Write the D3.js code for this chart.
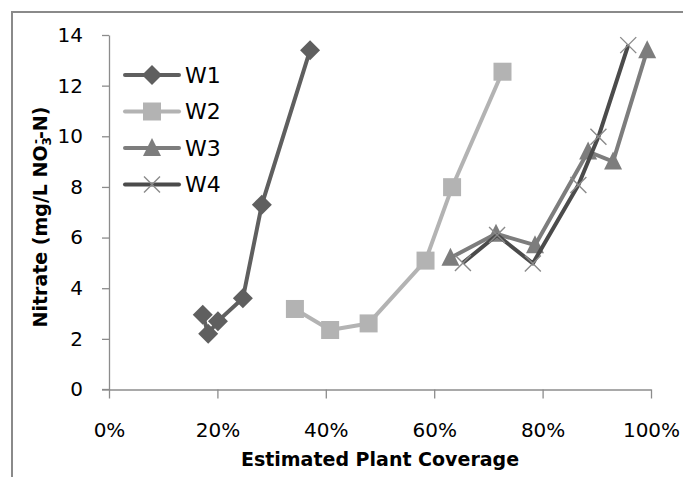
<!DOCTYPE html>
<html>
<head>
<meta charset="utf-8">
<script src="https://cdn.jsdelivr.net/npm/d3@7"></script>
<style>
  html, body { margin: 0; padding: 0; background: #fff; }
  svg { display: block; }
  text { font-family: "DejaVu Sans", "Liberation Sans", sans-serif; fill: #000; }
</style>
</head>
<body>
<svg id="chart" width="683" height="477"></svg>
<script>
// ---- data ----
const seriesNames = ["W1", "W2", "W3", "W4"];
const w1Coverage = [0.173, 0.183, 0.201, 0.247, 0.282, 0.371];
const w1Nitrate  = [2.95, 2.2, 2.7, 3.6, 7.3, 13.4];
const w2Coverage = [0.343, 0.408, 0.479, 0.584, 0.633, 0.726];
const w2Nitrate  = [3.18, 2.35, 2.61, 5.09, 7.99, 12.55];
const w3Coverage = [0.630, 0.714, 0.786, 0.884, 0.930, 0.993];
const w3Nitrate  = [5.2, 6.15, 5.7, 9.4, 9.0, 13.4];
const w4Coverage = [0.653, 0.716, 0.782, 0.866, 0.903, 0.958];
const w4Nitrate  = [5.0, 6.1, 4.98, 8.08, 9.98, 13.6];
const xTicks = [0, 0.2, 0.4, 0.6, 0.8, 1.0];
const yTicks = [0, 2, 4, 6, 8, 10, 12, 14];

const coverage = [w1Coverage, w2Coverage, w3Coverage, w4Coverage];
const nitrate = [w1Nitrate, w2Nitrate, w3Nitrate, w4Nitrate];
const lineColors = ["#5f5f5f", "#b3b3b3", "#7d7d7d", "#4b4b4b"];
const markerKinds = ["diamond", "square", "triangle", "x"];

const svg = d3.select("#chart");

// chart frame (only top/left edges visible)
svg.append("rect").attr("x", 12).attr("y", 12).attr("width", 800).attr("height", 600)
  .attr("fill", "#fff").attr("stroke", "#8a8a8a").attr("stroke-width", 2);

const x = d3.scaleLinear().domain([0, 1]).range([109, 651]);
const y = d3.scaleLinear().domain([0, 14]).range([389.5, 35]);

// axes
const axisColor = "#8c8c8c";
const gx = svg.append("g").attr("transform", `translate(0,${y(0)})`)
  .call(d3.axisBottom(x).tickValues(xTicks).tickFormat(d3.format(".0%")).tickSize(9).tickPadding(24).tickSizeOuter(0));
const gy = svg.append("g").attr("transform", `translate(${x(0)},0)`)
  .call(d3.axisLeft(y).tickValues(yTicks).tickSize(7).tickPadding(19).tickSizeOuter(0));
[gx, gy].forEach(g => {
  g.select(".domain").attr("stroke", axisColor).attr("stroke-width", 1.3);
  g.selectAll(".tick line").attr("stroke", axisColor).attr("stroke-width", 1.3);
  g.selectAll(".tick text").attr("font-family", "DejaVu Sans").attr("font-size", 20).attr("fill", "#222");
});
// extend x axis line slightly left of y-axis like Excel
gx.append("line").attr("x1", x(0) - 7).attr("x2", x(0)).attr("y1", 0).attr("y2", 0)
  .attr("stroke", axisColor).attr("stroke-width", 1.3);

// axis titles
svg.append("text").attr("x", 380).attr("y", 466).attr("text-anchor", "middle")
  .attr("font-size", 19).attr("font-weight", "bold").text("Estimated Plant Coverage");

const yt = svg.append("text").attr("transform", "translate(47,217) rotate(-90)")
  .attr("text-anchor", "middle").attr("font-size", 19).attr("font-weight", "bold");
yt.append("tspan").text("Nitrate (mg/L NO");
yt.append("tspan").attr("font-size", 12).attr("dy", 4).text("3");
yt.append("tspan").attr("font-size", 12).attr("dx", -7).attr("dy", -11).text("-");
yt.append("tspan").attr("dy", 7).text("-N)");

// marker drawing
function drawMarker(g, kind, cx, cy, color) {
  if (kind === "diamond") {
    g.append("path").attr("d", `M${cx},${cy - 10}L${cx + 10},${cy}L${cx},${cy + 10}L${cx - 10},${cy}Z`)
      .attr("fill", color);
  } else if (kind === "square") {
    g.append("rect").attr("x", cx - 9).attr("y", cy - 9).attr("width", 18).attr("height", 18)
      .attr("fill", color);
  } else if (kind === "triangle") {
    g.append("path").attr("d", `M${cx},${cy - 10}L${cx + 9},${cy + 8}L${cx - 9},${cy + 8}Z`)
      .attr("fill", color);
  } else {
    g.append("path").attr("d", `M${cx - 8},${cy - 8}L${cx + 8},${cy + 8}M${cx - 8},${cy + 8}L${cx + 8},${cy - 8}`)
      .attr("stroke", "#8a8a8a").attr("stroke-width", 1.4).attr("fill", "none");
  }
}

const line = d3.line().x(d => x(d[0])).y(d => y(d[1]));

seriesNames.forEach((name, i) => {
  const pts = coverage[i].map((c, j) => [c, nitrate[i][j]]);
  const g = svg.append("g");
  g.append("path").datum(pts).attr("d", line).attr("fill", "none")
    .attr("stroke", lineColors[i]).attr("stroke-width", 4).attr("stroke-linejoin", "round");
  pts.forEach(p => drawMarker(g, markerKinds[i], x(p[0]), y(p[1]), lineColors[i]));
});

// legend
seriesNames.forEach((name, i) => {
  const ly = 75 + i * 36.5;
  const g = svg.append("g");
  g.append("line").attr("x1", 125).attr("x2", 179).attr("y1", ly).attr("y2", ly)
    .attr("stroke", lineColors[i]).attr("stroke-width", 4).attr("stroke-linecap", "round");
  drawMarker(g, markerKinds[i], 152, ly, lineColors[i]);
  g.append("text").attr("x", 185).attr("y", ly).attr("dy", "0.36em")
    .attr("font-size", 22).attr("fill", "#111").text(name);
});
</script>
</body>
</html>
